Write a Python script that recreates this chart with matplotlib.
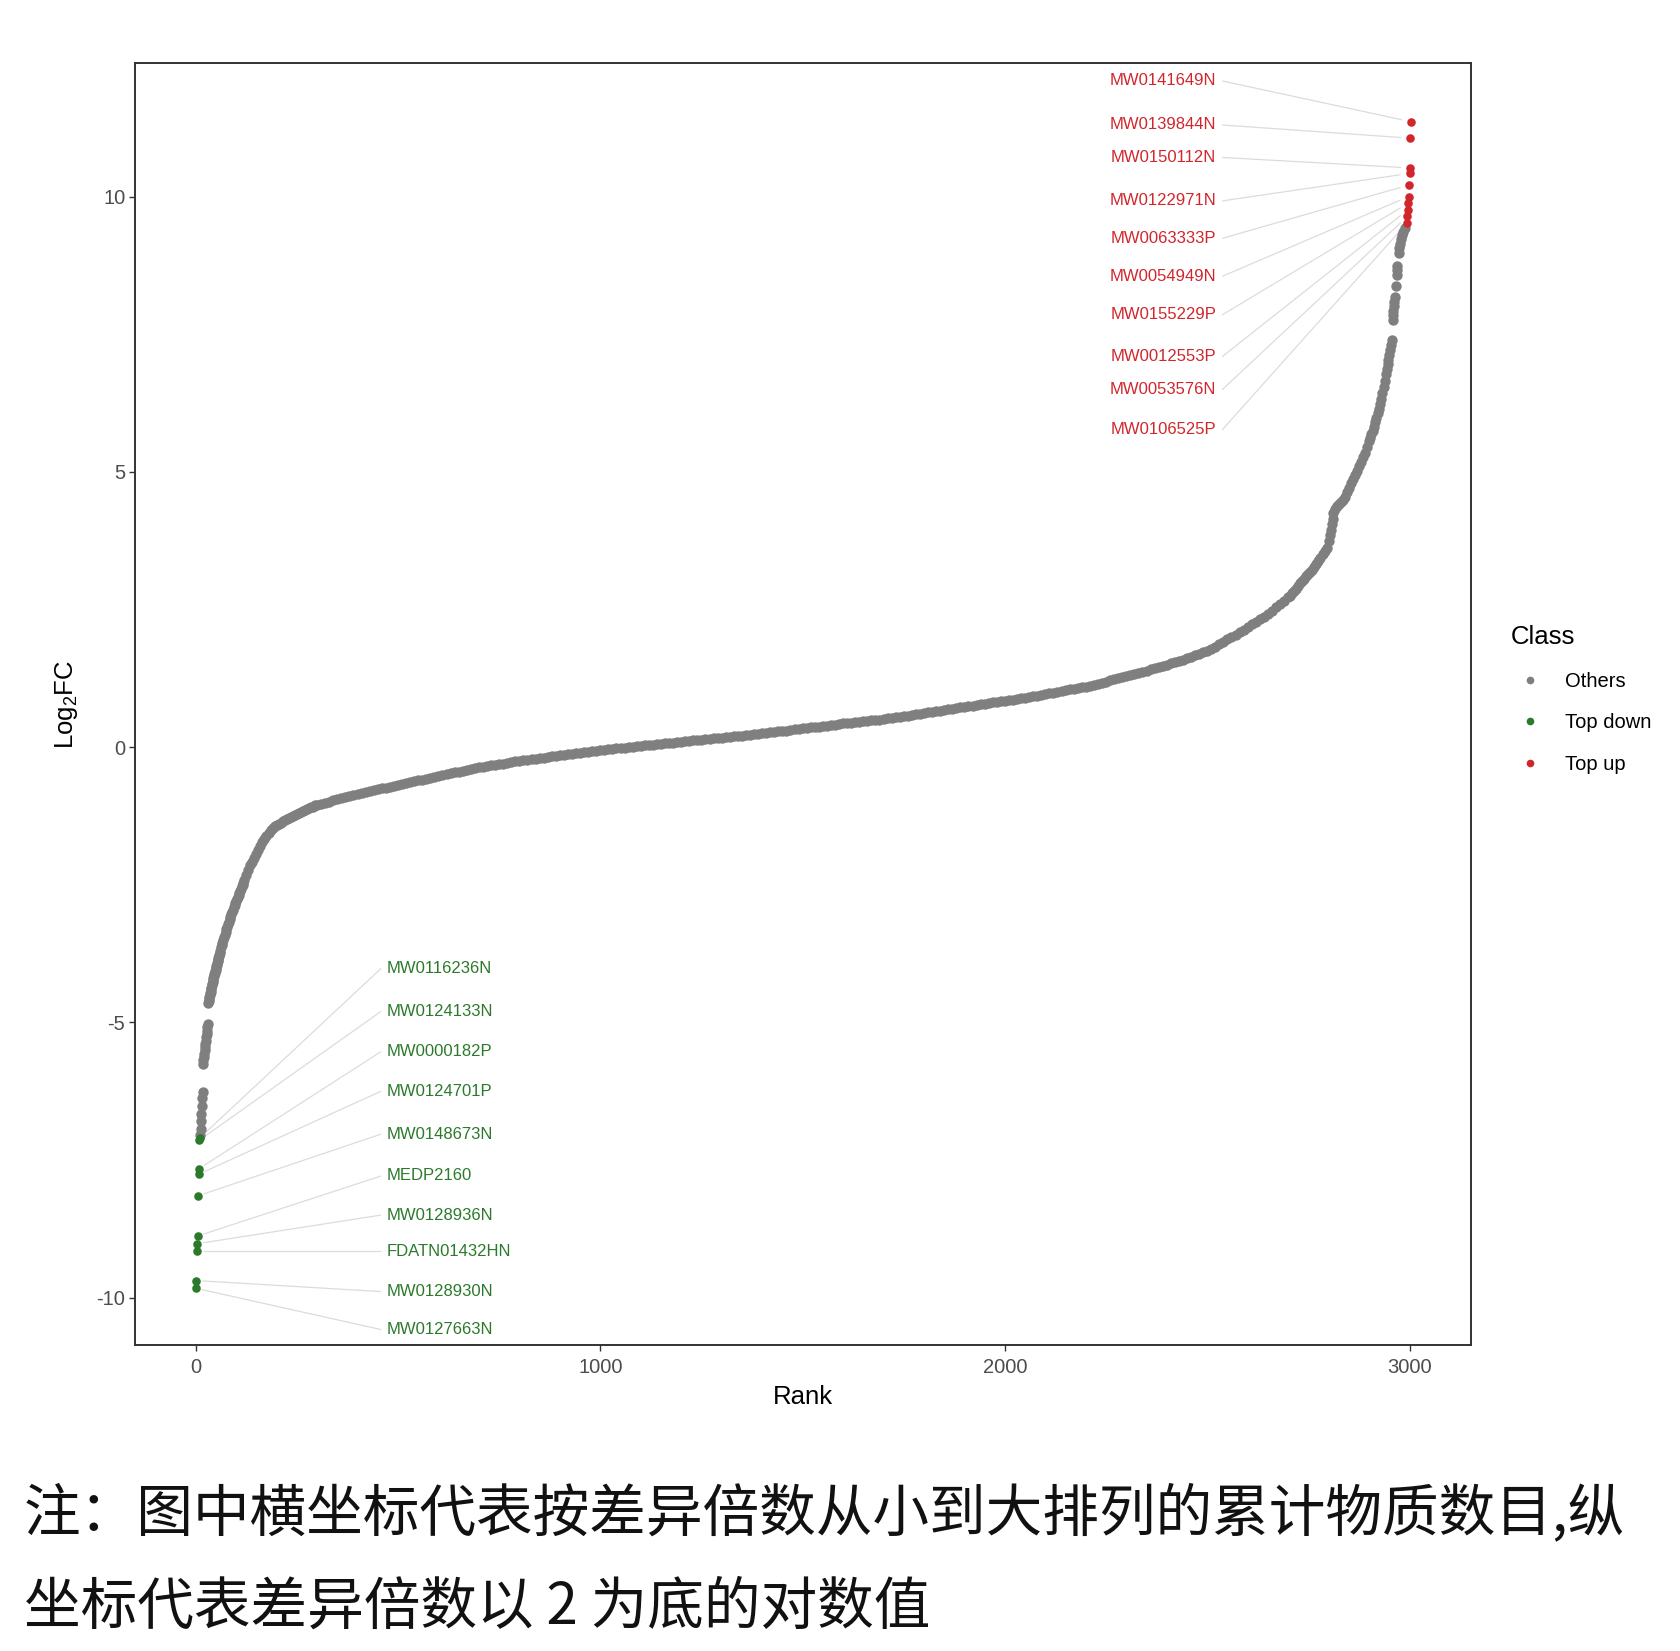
import numpy as np
import matplotlib
matplotlib.use('Agg')
import matplotlib.pyplot as plt
from matplotlib.lines import Line2D

plt.rcParams['font.family'] = ['Liberation Sans', 'DejaVu Sans']
plt.rcParams['mathtext.fontset'] = 'custom'
plt.rcParams['mathtext.rm'] = 'Liberation Sans'
plt.rcParams['axes.unicode_minus'] = False

# ---------------- data ----------------
# Top down (green), ranks 1..10
down_rank = [1, 2, 3, 4, 5, 6, 7, 8, 9, 10]
down_fc = [-9.83, -9.69, -9.16, -9.02, -8.88, -8.15, -7.76, -7.66, -7.14, -7.10]
down_names = ['MW0127663N', 'MW0128930N', 'FDATN01432HN', 'MW0128936N', 'MEDP2160',
              'MW0148673N', 'MW0124701P', 'MW0000182P', 'MW0124133N', 'MW0116236N']

# Top up (red), ranks 2994..3003
up_rank = [2994, 2995, 2996, 2997, 2998, 2999, 3000, 3001, 3002, 3003]
up_fc = [9.52, 9.64, 9.76, 9.88, 10.00, 10.21, 10.42, 10.52, 11.06, 11.36]
up_names = ['MW0106525P', 'MW0053576N', 'MW0012553P', 'MW0155229P', 'MW0054949N',
            'MW0063333P', 'MW0122971N', 'MW0150112N', 'MW0139844N', 'MW0141649N']

# Others (grey)
others_rank_a = list(range(11, 61))
others_fc_a = [-7.05, -6.93, -6.80, -6.66, -6.52, -6.38, -6.26,
               -5.75, -5.69, -5.63, -5.57, -5.51, -5.45, -5.39, -5.33, -5.27, -5.21, -5.15, -5.09, -5.03,
               -4.65, -4.61, -4.58, -4.54, -4.51, -4.47, -4.44, -4.40, -4.37, -4.33,
               -4.30, -4.26, -4.23, -4.20, -4.16, -4.13, -4.10, -4.07, -4.04, -4.01,
               -3.98, -3.95, -3.92, -3.89, -3.86, -3.83, -3.80, -3.77, -3.74, -3.71]

others_rank_b = list(range(62, 121, 2))
others_fc_b = [-3.64, -3.59, -3.55, -3.50, -3.45, -3.41, -3.36, -3.31, -3.26, -3.22,
               -3.17, -3.12, -3.08, -3.03, -2.99, -2.95, -2.91, -2.87, -2.84, -2.80,
               -2.76, -2.72, -2.68, -2.65, -2.61, -2.57, -2.53, -2.50, -2.46, -2.42]

others_rank_c = list(range(125, 301, 5))
others_fc_c = [-2.33, -2.24, -2.15, -2.08, -2.01, -1.94, -1.87, -1.80, -1.73, -1.67,
               -1.61, -1.56, -1.51, -1.47, -1.44, -1.41, -1.39, -1.37, -1.35, -1.33,
               -1.31, -1.29, -1.27, -1.25, -1.23, -1.22, -1.20, -1.18, -1.16, -1.14,
               -1.13, -1.11, -1.09, -1.08, -1.06, -1.05]

others_rank_d = list(range(310, 2701, 10))
others_fc_d = [-1.03,
               -1.01, -0.99, -0.97, -0.94, -0.92, -0.90, -0.88, -0.865, -0.85, -0.835,
               -0.82, -0.80, -0.78, -0.765, -0.75, -0.735, -0.72, -0.705, -0.69, -0.67,
               -0.65, -0.635, -0.62, -0.605, -0.59, -0.575, -0.56, -0.54, -0.52, -0.505,
               -0.49, -0.475, -0.46, -0.445, -0.43, -0.415, -0.40, -0.385, -0.37, -0.355,
               -0.34, -0.33, -0.32, -0.31, -0.30, -0.285, -0.27, -0.26, -0.25, -0.24,
               -0.23, -0.22, -0.21, -0.20, -0.19, -0.18, -0.17, -0.16, -0.15, -0.14,
               -0.13, -0.12, -0.11, -0.10, -0.09, -0.085, -0.08, -0.07, -0.06, -0.05,
               -0.04, -0.03, -0.02, -0.015, -0.01, 0.00, 0.01, 0.015, 0.02, 0.03,
               0.04, 0.045, 0.05, 0.06, 0.07, 0.075, 0.08, 0.09, 0.10, 0.105,
               0.11, 0.12, 0.13, 0.135, 0.14, 0.15, 0.16, 0.165, 0.17, 0.18,
               0.19, 0.195, 0.20, 0.21, 0.22, 0.225, 0.23, 0.24, 0.25, 0.26,
               0.27, 0.28, 0.29, 0.295, 0.30, 0.31, 0.32, 0.33, 0.34, 0.35,
               0.36, 0.365, 0.37, 0.38, 0.39, 0.40, 0.41, 0.42, 0.43, 0.435,
               0.44, 0.45, 0.46, 0.47, 0.48, 0.485, 0.49, 0.50, 0.51, 0.52,
               0.53, 0.54, 0.55, 0.56, 0.57, 0.585, 0.60, 0.61, 0.62, 0.63,
               0.64, 0.65, 0.66, 0.675, 0.69, 0.70, 0.71, 0.72, 0.73, 0.74,
               0.75, 0.765, 0.78, 0.79, 0.80, 0.81, 0.82, 0.83, 0.84, 0.85,
               0.86, 0.875, 0.89, 0.90, 0.91, 0.92, 0.93, 0.945, 0.96, 0.975,
               0.99, 1.005, 1.02, 1.035, 1.05, 1.06, 1.07, 1.085, 1.10, 1.115,
               1.13, 1.15, 1.17, 1.19, 1.21, 1.23, 1.25, 1.27, 1.29, 1.31,
               1.33, 1.35, 1.37, 1.39, 1.41, 1.43, 1.45, 1.475, 1.50, 1.525,
               1.55, 1.57, 1.59, 1.615, 1.64, 1.665, 1.69, 1.72, 1.75, 1.785,
               1.82, 1.865, 1.91, 1.955, 2.00, 2.045, 2.09, 2.135, 2.18, 2.23,
               2.28, 2.325, 2.37, 2.425, 2.48, 2.54, 2.60, 2.66, 2.72]

others_rank_e = [2705, 2710, 2715, 2720, 2725, 2730, 2735, 2740, 2745, 2750,
                 2755, 2760, 2765, 2770, 2775, 2780, 2785, 2790, 2795, 2800,
                 2803, 2806, 2808, 2810, 2812,
                 2815, 2820, 2825, 2830, 2835, 2840, 2845, 2850, 2855, 2860,
                 2865, 2870, 2875, 2880, 2885, 2890, 2895, 2900,
                 2903, 2906, 2909, 2912, 2915, 2918, 2921, 2924, 2927,
                 2930, 2933, 2936, 2939,
                 2942, 2944, 2946, 2948, 2950, 2952, 2954, 2956,
                 2958, 2959, 2960, 2961, 2962, 2963,
                 2966,
                 2968, 2969, 2970,
                 2973, 2975, 2977, 2979, 2981, 2984, 2988]
others_fc_e = [2.75, 2.79, 2.83, 2.88, 2.93, 2.98, 3.02, 3.06, 3.10, 3.14,
               3.18, 3.22, 3.27, 3.32, 3.38, 3.44, 3.50, 3.56, 3.62, 3.75,
               3.85, 3.95, 4.05, 4.15, 4.25,
               4.32, 4.37, 4.41, 4.45, 4.49, 4.55, 4.63, 4.71, 4.79, 4.87,
               4.94, 5.02, 5.10, 5.18, 5.26, 5.35, 5.45, 5.56,
               5.62, 5.68, 5.75, 5.82, 5.90, 5.98, 6.07, 6.15, 6.24,
               6.33, 6.43, 6.54, 6.65,
               6.77, 6.86, 6.95, 7.04, 7.12, 7.21, 7.31, 7.40,
               7.75, 7.84, 7.93, 8.01, 8.09, 8.17,
               8.38,
               8.58, 8.66, 8.73,
               8.98, 9.06, 9.14, 9.22, 9.30, 9.36, 9.42]

x_ticks = [0, 1000, 2000, 3000]
y_ticks = [-10, -5, 0, 5, 10]
legend_labels = ['Others', 'Top down', 'Top up']
caption_lines = ['注：图中横坐标代表按差异倍数从小到大排列的累计物质数目,纵',
                 '坐标代表差异倍数以 2 为底的对数值']

others_rank = others_rank_a + others_rank_b + others_rank_c + others_rank_d + others_rank_e
others_fc = others_fc_a + others_fc_b + others_fc_c + others_fc_d + others_fc_e
assert len(others_rank) == len(others_fc), (len(others_rank), len(others_fc))

# ---------------- layout / style ----------------
W, H = 1680, 1651
C_OTHER = '#7f7f7f'
C_DOWN = '#2b7a2b'
C_UP = '#d0262c'
C_SEG = '#dcdcdc'

fig = plt.figure(figsize=(W / 100, H / 100), dpi=100)
ax = fig.add_axes([135 / W, 1 - 1345 / H, (1471 - 135) / W, (1345 - 63.3) / H])

ax.set_xlim(-150, 3152)
ax.set_ylim(-10.86, 12.42)

ax.scatter(others_rank, others_fc, s=56, color=C_OTHER, linewidths=0, zorder=2)
ax.scatter(down_rank, down_fc, s=38, color=C_DOWN, linewidths=0, zorder=3)
ax.scatter(up_rank, up_fc, s=38, color=C_UP, linewidths=0, zorder=3)

ax.set_xticks(x_ticks)
ax.set_yticks(y_ticks)
ax.tick_params(length=4, width=1.0, color='#333333', labelsize=14.5,
               labelcolor='#4d4d4d', pad=3)
ax.tick_params(axis='x', pad=5)
for sp in ax.spines.values():
    sp.set_color('#333333')
    sp.set_linewidth(1.4)

ax.set_xlabel('Rank', fontsize=18.5, labelpad=6)
ax.set_ylabel(r'$\mathregular{Log_2FC}$', fontsize=18.5, labelpad=12)

# repel-style labels (positions in layout constants)
up_label_x = 2522
up_label_y = [12.10, 11.30, 10.71, 9.92, 9.24, 8.55, 7.85, 7.09, 6.49, 5.76]  # top to bottom
down_label_x = 473
down_label_y = [-4.02, -4.80, -5.53, -6.25, -7.03, -7.79, -8.50, -9.16, -9.89, -10.58]

def segment(lx, ly, px, py, start_off, shrink):
    p0 = ax.transData.transform((lx, ly)) + np.array([start_off, 0.0])
    p1 = ax.transData.transform((px, py))
    d = p1 - p0
    L = np.hypot(*d)
    p1s = p1 - d / L * shrink
    q = ax.transData.inverted().transform(np.array([p0, p1s]))
    ax.plot(q[:, 0], q[:, 1], color=C_SEG, lw=0.9, zorder=1, solid_capstyle='butt')

# up labels: top label -> highest point
up_sorted = sorted(zip(up_fc, up_rank, up_names), reverse=True)
for (fc, rk, name), ly in zip(up_sorted, up_label_y):
    ax.text(up_label_x, ly, name, color=C_UP, fontsize=12, ha='right', va='center', zorder=4)
    segment(up_label_x, ly, rk, fc, 6, 9)

down_sorted = sorted(zip(down_fc, down_rank, down_names), reverse=True)
for (fc, rk, name), ly in zip(down_sorted, down_label_y):
    ax.text(down_label_x, ly, name, color=C_DOWN, fontsize=12, ha='left', va='center', zorder=4)
    segment(down_label_x, ly, rk, fc, -6, 6)

# legend
handles = [Line2D([], [], marker='o', ls='', color=c, markersize=5.5, markeredgewidth=0)
           for c in (C_OTHER, C_DOWN, C_UP)]
leg = ax.legend(handles, legend_labels, title='Class', loc='upper left',
                bbox_to_anchor=(1511 / W, 1 - 625 / H), bbox_transform=fig.transFigure,
                frameon=False, fontsize=14.5, title_fontsize=18.5, alignment='left',
                handlelength=1.9, handletextpad=0.8, labelspacing=1.12,
                borderpad=0, borderaxespad=0)

# caption
cjk = ['Noto Sans CJK SC', 'DejaVu Sans']
fig.text(24 / W, 1 - 1514 / H, caption_lines[0], fontsize=40.8, family=cjk,
         ha='left', va='center', color='#111111')
fig.text(24 / W, 1 - 1607 / H, caption_lines[1], fontsize=40.8, family=cjk,
         ha='left', va='center', color='#111111')

fig.savefig('out.png', dpi=100, facecolor='white')
